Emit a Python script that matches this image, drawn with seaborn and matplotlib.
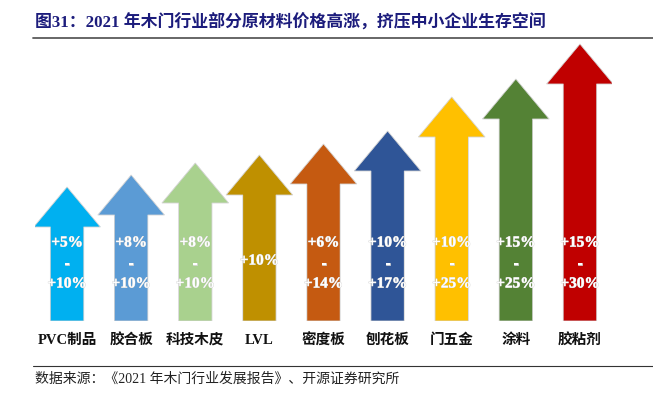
import matplotlib
matplotlib.use("Agg")
import matplotlib.pyplot as plt
import seaborn as sns
from matplotlib.patches import Polygon
from matplotlib.lines import Line2D
import matplotlib.patheffects as pe

# data
categories = ['PVC制品', '胶合板', '科技木皮', 'LVL', '密度板', '刨花板', '门五金', '涂料', '胶粘剂']
low_pct = [5, 8, 8, 10, 6, 10, 10, 15, 15]
high_pct = [10, 10, 10, 10, 14, 17, 25, 25, 30]
# illustrative arrow height (tip level)
arrow_level = [134, 146, 158, 166, 177, 190, 224, 242, 277]
colors = ['#00B0F0', '#5B9BD5', '#A9D18E', '#BF9000', '#C55A11',
          '#2F5597', '#FFC000', '#548235', '#C00000']

title = '图31：2021 年木门行业部分原材料价格高涨，挤压中小企业生存空间'
source = '数据来源：《2021 年木门行业发展报告》、开源证券研究所'

sns.set_theme(style='white')
mixed = ['Liberation Serif', 'Noto Sans CJK SC']
plt.rcParams['font.family'] = mixed

W, H = 653, 395
fig = plt.figure(figsize=(W / 100, H / 100), dpi=100)
ax = fig.add_axes([35 / W, 1 - 321 / H, (612 - 35) / W, (321 - 40) / H])

head_len = 40
shaft_w = 0.52
head_w = 1.04
shaft = [lv - head_len for lv in arrow_level]

sns.barplot(x=categories, y=shaft, hue=categories, order=categories,
            palette=colors, width=shaft_w, saturation=1, legend=False,
            linewidth=0, ax=ax)

for i, (lv, c) in enumerate(zip(arrow_level, colors)):
    base = lv - head_len
    head = Polygon([(i - head_w / 2, base), (i, lv), (i + head_w / 2, base)],
                   closed=True, facecolor=c, edgecolor='none', zorder=3)
    ax.add_patch(head)
    outline = Polygon([(i - shaft_w / 2, 0), (i - shaft_w / 2, base),
                       (i - head_w / 2, base), (i, lv), (i + head_w / 2, base),
                       (i + shaft_w / 2, base), (i + shaft_w / 2, 0)],
                      closed=True, facecolor='none', edgecolor='#d4d4d4',
                      linewidth=0.6, zorder=4)
    ax.add_patch(outline)

    txt_kw = dict(ha='center', va='center', color='white', fontsize=11,
                  fontweight='bold', family='Liberation Serif', zorder=5,
                  path_effects=[pe.withStroke(linewidth=0.5, foreground='#d0d0d0')])
    lo, hi = low_pct[i], high_pct[i]
    if lo == hi:
        ax.text(i, 60, f'+{lo}%', **txt_kw)
    else:
        ax.text(i, 78, f'+{lo}%', **txt_kw)
        ax.text(i, 57, '-', **txt_kw)
        ax.text(i, 37, f'+{hi}%', **txt_kw)

ax.set_xlim(-0.5, 8.5)
ax.set_ylim(0, 281)
ax.set_yticks([])
ax.set_xlabel('')
ax.set_ylabel('')
ax.tick_params(axis='x', length=0, pad=9)
for lab in ax.get_xticklabels():
    lab.set_fontsize(10.5)
    lab.set_fontweight('bold')
    lab.set_color('#111111')
    lab.set_family(mixed)
sns.despine(ax=ax, left=True, bottom=True)

# title, rules and source
fig.text(35 / W, 1 - 23 / H, title, ha='left', va='center', fontsize=12.2,
         fontweight='bold', color='#1C1C7C', family=mixed)
fig.add_artist(Line2D([33 / W, 1], [1 - 38 / H] * 2, color='#5a5a5a', lw=1.3))
fig.add_artist(Line2D([33 / W, 1], [1 - 366 / H] * 2, color='#333333', lw=0.8))
fig.text(35 / W, 1 - 379 / H, source, ha='left', va='center', fontsize=10,
         color='#222222', family=mixed)

fig.savefig('out.png', dpi=100)
